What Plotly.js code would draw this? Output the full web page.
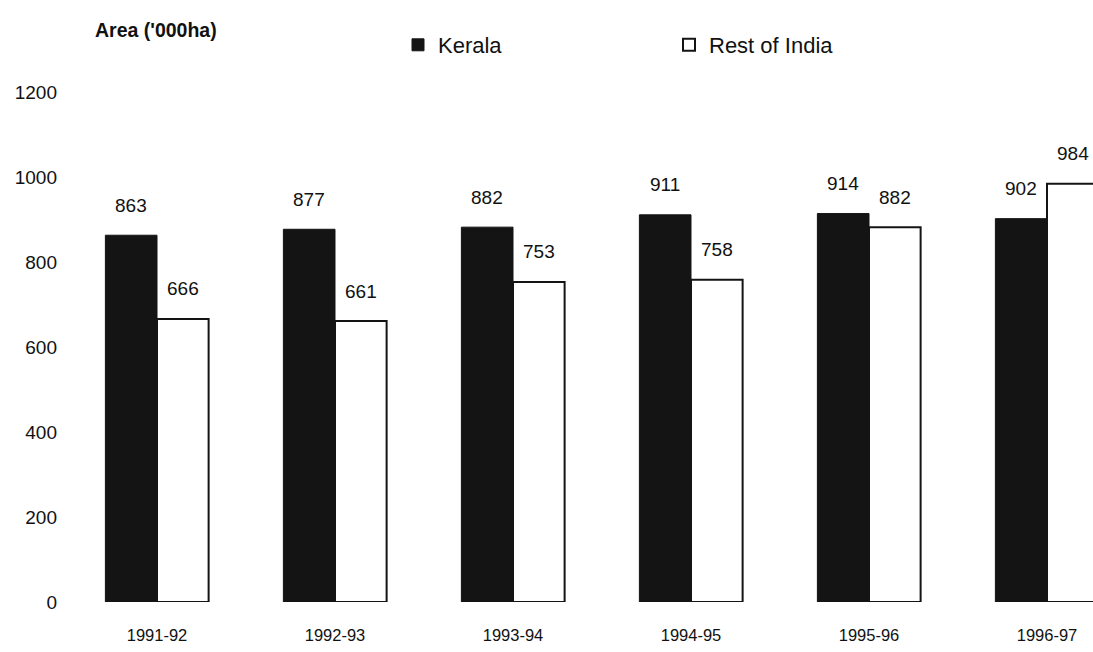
<!DOCTYPE html>
<html>
<head>
<meta charset="utf-8">
<script src="https://cdn.plot.ly/plotly-3.0.1.min.js"></script>
<style>html,body{margin:0;padding:0;background:#fff;}#chart{width:1093px;height:652px;}</style>
</head>
<body>
<div id="chart"></div>
<script>
const categories = ['1991-92', '1992-93', '1993-94', '1994-95', '1995-96', '1996-97'];
const kerala = [863, 877, 882, 911, 914, 902];
const restOfIndia = [666, 661, 753, 758, 882, 984];
const yTicks = [0, 200, 400, 600, 800, 1000, 1200];

const FONT = 'Liberation Sans, Arial, sans-serif';
const barHalf = 26;

const traces = [
  {
    type: 'bar', name: 'Kerala', x: categories, y: kerala,
    marker: {color: '#141414', line: {color: '#141414', width: 1}},
    hoverinfo: 'x+y'
  },
  {
    type: 'bar', name: 'Rest of India', x: categories, y: restOfIndia,
    marker: {color: '#ffffff', line: {color: '#141414', width: 2}},
    hoverinfo: 'x+y'
  }
];

const annotations = [];
categories.forEach((c, i) => {
  annotations.push({x: c, y: kerala[i], xref: 'x', yref: 'y', text: String(kerala[i]),
    showarrow: false, xshift: -barHalf, yshift: 30, font: {family: FONT, size: 19, color: '#111'}});
  annotations.push({x: c, y: restOfIndia[i], xref: 'x', yref: 'y', text: String(restOfIndia[i]),
    showarrow: false, xshift: barHalf, yshift: 30, font: {family: FONT, size: 19, color: '#111'}});
});

const layout = {
  width: 1093, height: 652,
  paper_bgcolor: '#fff', plot_bgcolor: '#fff',
  margin: {l: 68, r: 0, t: 92, b: 50, pad: 0},
  font: {family: FONT, color: '#111'},
  title: {
    text: "<b>Area ('000ha)</b>",
    xref: 'container', x: 95 / 1093, xanchor: 'left',
    yref: 'container', y: 1 - 30 / 652, yanchor: 'middle',
    font: {family: FONT, size: 19.5, color: '#111'}
  },
  barmode: 'group', bargap: 0.42, bargroupgap: 0,
  showlegend: true,
  legend: {
    orientation: 'h', xref: 'container', x: 398 / 1093, xanchor: 'left',
    yref: 'container', y: 1 - 45 / 652, yanchor: 'middle',
    font: {family: FONT, size: 22, color: '#111'},
    itemwidth: 30, entrywidth: 226, entrywidthmode: 'pixels',
    traceorder: 'normal', bgcolor: 'rgba(0,0,0,0)'
  },
  xaxis: {
    type: 'category', range: [-0.5, -0.5 + 1025 / 178],
    showgrid: false, zeroline: false, showline: false, ticks: '',
    ticklabelstandoff: 21,
    tickfont: {family: FONT, size: 16.5, color: '#111'}
  },
  yaxis: {
    range: [0, 1200], tickvals: yTicks, ticktext: yTicks.map(String),
    showgrid: false, zeroline: false, showline: false, ticks: '',
    ticklabelstandoff: 10,
    tickfont: {family: FONT, size: 19, color: '#111'}
  },
  annotations: annotations
};

Plotly.newPlot('chart', traces, layout, {displayModeBar: false, staticPlot: true});
</script>
</body>
</html>
